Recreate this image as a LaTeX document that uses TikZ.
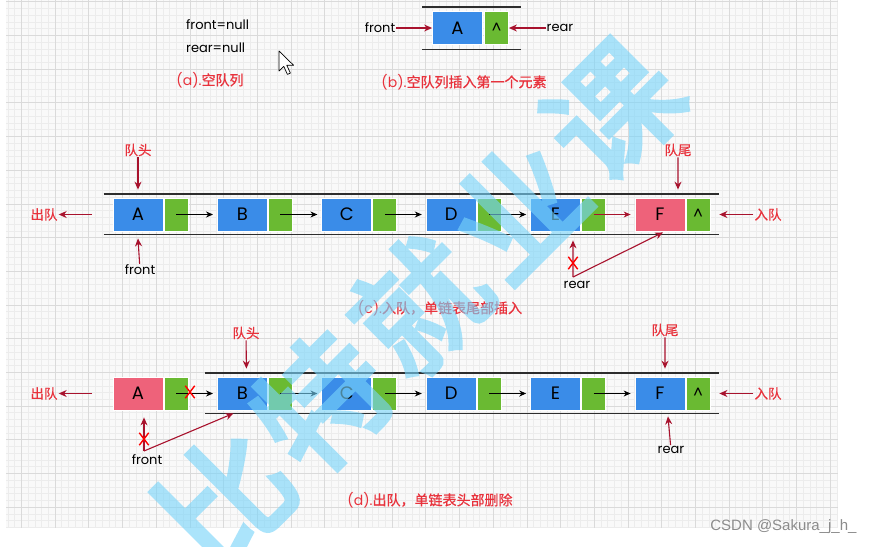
\documentclass[tikz,border=0pt]{standalone}
\usepackage{fontspec}
\setmainfont{Poppins}
\newfontfamily\cjk[FakeBold=0.6]{Noto Sans CJK SC}
\newfontfamily\wmfont[FakeBold=4]{Noto Sans CJK SC}
\newfontfamily\csdnfont{Liberation Sans}
\usepackage{tikz}
\usetikzlibrary{arrows.meta,calc,shapes.misc}

\definecolor{qblue}{RGB}{58,140,232}
\definecolor{qgreen}{RGB}{106,186,50}
\definecolor{qpink}{RGB}{238,98,122}
\definecolor{qred}{RGB}{232,50,60}
\definecolor{qdark}{RGB}{168,18,45}
\definecolor{qrail}{RGB}{45,45,45}
\definecolor{qgridbg}{RGB}{249,249,249}
\definecolor{qminor}{RGB}{236,236,236}
\definecolor{qmajor}{RGB}{218,218,218}
\definecolor{qwater}{RGB}{120,212,250}

\begin{document}
\begin{tikzpicture}[x = 1pt, y = -1pt,
	elem/.style = {fill=qblue, draw=white, line width=0.8pt, minimum width=50pt, minimum height=33pt, inner sep=0pt, font=\fontsize{18}{18}\selectfont},
	ptr/.style = {fill=qgreen, draw=white, line width=0.8pt, minimum width=24pt, minimum height=33pt, inner sep=0pt, font=\fontsize{15}{15}\selectfont},
	lbl/.style = {text=qred, font=\cjk\fontsize{13.5}{14}\selectfont, inner sep=1pt},
	txt/.style = {font=\fontsize{13}{13}\selectfont, inner sep=1pt},
	capt/.style = {text=qred, font=\fontsize{14}{15}\selectfont, inner sep=1pt},
	rail/.style = {qrail, line width=1.8pt},
	link/.style = {-{Stealth[length=7pt,width=6pt]}, line width=0.9pt, shorten >=4pt},
	hint/.style = {-{Stealth[length=8pt,width=7pt]}, qdark, line width=1.1pt},
	xmark/.style = {cross out, draw=red, line width=1.4pt, minimum width=8pt, minimum height=11pt, inner sep=0pt},
	wm/.style = {text=qwater, font=\wmfont\fontsize{128}{128}\selectfont, inner sep=0pt}]
		\def\mystep{104.4}
		\def\rowc{214.5}
		\def\rowd{393.5}
		\useasboundingbox (0,0) rectangle (875,546);
		%--------------------
		% graph paper
		\fill[white] (0,0) rectangle (875,546);
		\fill[qgridbg] (6,0) rectangle (838,528);
		\foreach \i in {0,...,123} \draw[qminor, line width=0.5pt] (7.8+6.74*\i,0) -- (7.8+6.74*\i,528);
		\foreach \i in {0,...,78} \draw[qminor, line width=0.5pt] (6,1.6+6.74*\i) -- (838,1.6+6.74*\i);
		\foreach \i in {0,...,24} \draw[qmajor, line width=0.6pt] (21.3+33.7*\i,0) -- (21.3+33.7*\i,528);
		\foreach \i in {0,...,15} \draw[qmajor, line width=0.6pt] (6,1.6+33.7*\i) -- (838,1.6+33.7*\i);

		%--------------------
		% (a)
		\node[txt, anchor=west] (fnull) at (185,25) {front=null};
		\node[txt, anchor=west] (rnull) at (185,48) {rear=null};
		\node[capt] (capA) at (210,80) {(a).{\cjk 空队列}};
		\draw[fill=white, line width=0.7pt, line join=round] (279,51) -- ++(0,20) -- ++(4.8,-4.6) -- ++(3.6,8) -- ++(3,-1.3) -- ++(-3.6,-7.8) -- ++(6.8,0) -- cycle;

		%--------------------
		% (b)
		\node[elem] (bA) at (457.5,28) {A};
		\node[ptr] (bAp) at (496.5,28) {\textasciicircum};
		\draw[rail] ($(bA.north west)+(-10,-4)$) -- ($(bAp.north east)+(12,-4)$);
		\draw[rail] ($(bA.south west)+(-10,4.5)$) -- ($(bAp.south east)+(12,4.5)$);
		\node[txt] (bFront) at (380,28) {front};
		\node[txt] (bRear) at (560,28) {rear};
		\draw[hint] (bFront) -- (bA.west);
		\draw[hint] (bRear) -- (bAp.east);
		\node[capt] (capB) at (464,82) {(b).{\cjk 空队列插入第一个元素}};

		%--------------------
		% (c)
		\foreach \n/\i in {A/0,B/1,C/2,D/3,E/4} {
			\node[elem] (c\n) at (138+\mystep*\i,\rowc) {\n};
			\node[ptr] (c\n p) at (176+\mystep*\i,\rowc) {};
		}
		\node[elem, fill=qpink] (cF) at (138+\mystep*5,\rowc) {F};
		\node[ptr] (cFp) at (176+\mystep*5,\rowc) {\textasciicircum};
		\foreach \a/\b in {A/B,B/C,C/D,D/E} \draw[link] (c\a p.center) -- (c\b.west);
		\draw[link, qdark] (cEp.center) -- (cF.west);
		\draw[rail] ($(cA.north west)+(-9,-4)$) -- ($(cFp.north east)+(9,-4)$);
		\draw[rail] ($(cA.south west)+(-9,3)$) -- ($(cFp.south east)+(9,3)$);

		\node[lbl] (cHead) at (138,150) {队头};
		\draw[hint] (cHead) -- ($(cA.north)+(0,-8)$);
		\node[lbl] (cOut) at (44,\rowc) {出队};
		\coordinate (cOutS) at (92,\rowc);
		\draw[hint] (cOutS) -- (cOut);
		\node[txt] (cFront) at (140,270) {front};
		\draw[hint] (cFront) -- ($(cA.south)+(0,7)$);
		\node[lbl] (cTail) at (678,150) {队尾};
		\draw[hint] (cTail) -- ($(cF.north)+(18,-8)$);
		\node[lbl] (cIn) at (768,\rowc) {入队};
		\draw[hint] (cIn) -- ($(cFp.east)+(9,0)$);
		\node[txt] (cRear) at (577,285) {rear};
		\coordinate (cRearT) at (573,277);
		\draw[hint] (cRearT) -- ($(cE.south)+(17.4,9)$);
		\draw[hint] (cRearT) -- ($(cF.south)+(3,1)$);
		\node[xmark] (cX) at (573,263) {};
		\node[capt] (capC) at (440,308) {(c).{\cjk 入队，单链表尾部插入}};

		%--------------------
		% (d)
		\node[elem, fill=qpink] (dA) at (138,\rowd) {A};
		\node[ptr] (dAp) at (176,\rowd) {};
		\foreach \n/\i in {B/1,C/2,D/3,E/4} {
			\node[elem] (d\n) at (138+\mystep*\i,\rowd) {\n};
			\node[ptr] (d\n p) at (176+\mystep*\i,\rowd) {};
		}
		\node[elem] (dF) at (138+\mystep*5,\rowd) {F};
		\node[ptr] (dFp) at (176+\mystep*5,\rowd) {\textasciicircum};
		\foreach \a/\b in {A/B,B/C,C/D,D/E,E/F} \draw[link] (d\a p.center) -- (d\b.west);
		\node[xmark] (dX) at (190,392) {};
		\draw[rail] ($(dB.north west)+(-12,-4)$) -- ($(dFp.north east)+(9,-4)$);
		\draw[rail] ($(dB.south west)+(-12,3)$) -- ($(dFp.south east)+(9,3)$);

		\node[lbl] (dHead) at (246,333) {队头};
		\draw[hint] (dHead) -- ($(dB.north)+(4,-8)$);
		\node[lbl] (dOut) at (44,\rowd) {出队};
		\coordinate (dOutS) at (92,\rowd);
		\draw[hint] (dOutS) -- (dOut);
		\node[txt] (dFront) at (147,460) {front};
		\coordinate (dFrontT) at (144,451);
		\draw[hint] (dFrontT) -- ($(dA.south)+(6,7)$);
		\draw[hint] (dFrontT) -- ($(dB.south)+(-9,3)$);
		\node[xmark] (dX2) at (144,439) {};
		\node[lbl] (dTail) at (665,330) {队尾};
		\draw[hint] (dTail) -- ($(dF.north)+(5,-8)$);
		\node[lbl] (dIn) at (768,\rowd) {入队};
		\draw[hint] (dIn) -- ($(dFp.east)+(9,0)$);
		\node[txt] (dRear) at (671,450) {rear};
		\draw[hint] (dRear) -- ($(dF.south)+(8,6)$);
		\node[capt] (capD) at (430,500) {(d).{\cjk 出队，单链表头部删除}};

		%--------------------
		% watermark
		\begin{scope}[transparency group, opacity=0.62]
		\foreach \ch [count=\i] in {比,特,就,业,课}
			\node[wm, rotate=45] (wm\i) at (419+97*\i-291,305-97*\i+291) {\ch};
		\end{scope}
		\node[font=\csdnfont\fontsize{15}{15}\selectfont, text=black!45, anchor=east] (csdn) at (860,527) {CSDN @Sakura\_j\_h\_};
\end{tikzpicture}
\end{document}
